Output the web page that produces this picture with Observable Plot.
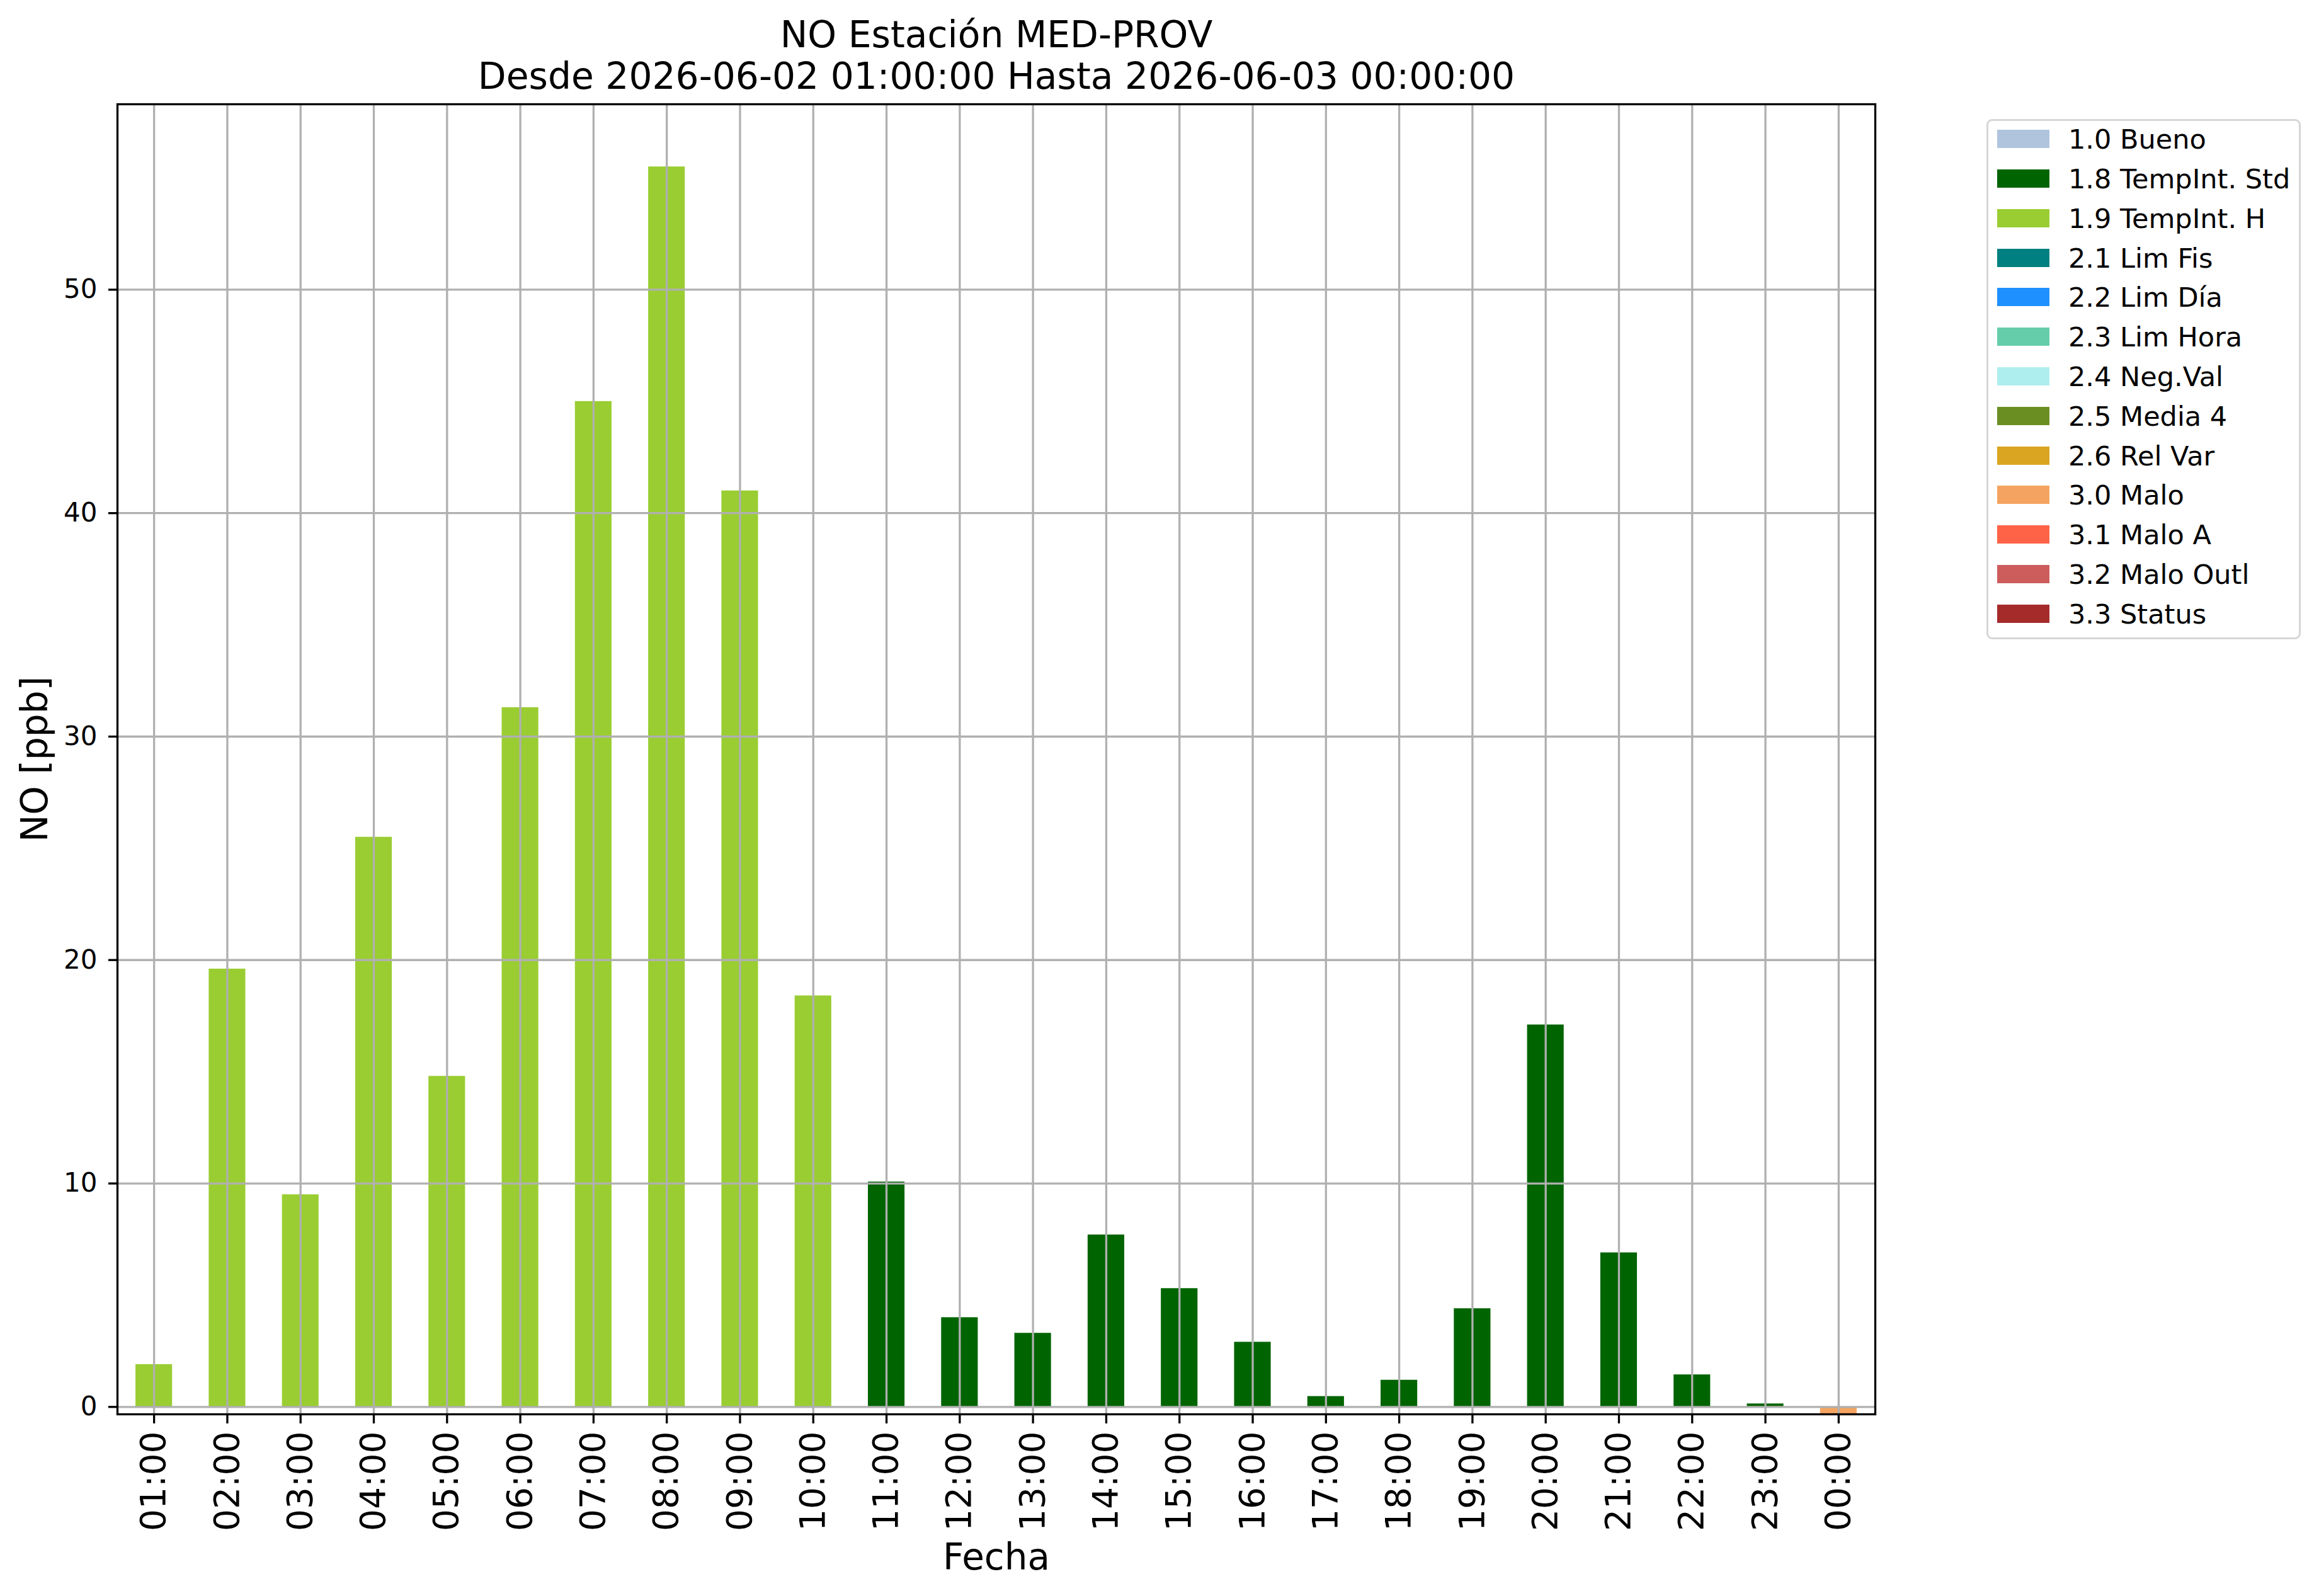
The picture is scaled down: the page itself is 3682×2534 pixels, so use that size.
<!DOCTYPE html>
<html>
<head>
<meta charset="utf-8">
<script src="https://cdn.jsdelivr.net/npm/d3@7"></script>
<script src="https://cdn.jsdelivr.net/npm/@observablehq/plot@0.6"></script>
<style>
  html, body { margin: 0; padding: 0; background: #fff; }
  #wrap { position: relative; width: 3682px; height: 2534px; font-family: "DejaVu Sans", sans-serif; background: #fff; }
  #wrap svg { position: absolute; left: 0; top: 0; }
  #legend { position: absolute; left: 3154px; top: 189px; width: 499px; height: 826px; box-sizing: border-box;
            border: 3.3px solid #d6d6d6; border-radius: 9px; background: #fff; }
  .sw { position: absolute; left: 14px; width: 83px; height: 29px; }
  .lab { position: absolute; left: 127px; font-size: 43px; line-height: 1; white-space: nowrap; color: #000; }
</style>
</head>
<body>
<div id="wrap"></div>
<script>
// ---- data ----
const hours = ["01:00","02:00","03:00","04:00","05:00","06:00","07:00","08:00","09:00","10:00","11:00","12:00",
               "13:00","14:00","15:00","16:00","17:00","18:00","19:00","20:00","21:00","22:00","23:00","00:00"];
const values = [1.9, 19.6, 9.5, 25.5, 14.8, 31.3, 45.0, 55.5, 41.0, 18.4, 10.07, 4.0,
                3.3, 7.7, 5.3, 2.9, 0.47, 1.2, 4.4, 17.1, 6.9, 1.44, 0.14, -0.33];
const flags = ["1.9 TempInt. H","1.9 TempInt. H","1.9 TempInt. H","1.9 TempInt. H","1.9 TempInt. H",
               "1.9 TempInt. H","1.9 TempInt. H","1.9 TempInt. H","1.9 TempInt. H","1.9 TempInt. H",
               "1.8 TempInt. Std","1.8 TempInt. Std","1.8 TempInt. Std","1.8 TempInt. Std","1.8 TempInt. Std",
               "1.8 TempInt. Std","1.8 TempInt. Std","1.8 TempInt. Std","1.8 TempInt. Std","1.8 TempInt. Std",
               "1.8 TempInt. Std","1.8 TempInt. Std","1.8 TempInt. Std","3.0 Malo"];
const legendLabels = ["1.0 Bueno","1.8 TempInt. Std","1.9 TempInt. H","2.1 Lim Fis","2.2 Lim Día","2.3 Lim Hora",
                      "2.4 Neg.Val","2.5 Media 4","2.6 Rel Var","3.0 Malo","3.1 Malo A","3.2 Malo Outl","3.3 Status"];
const legendColors = ["#b0c4de","#006400","#9acd32","#008080","#1e90ff","#66cdaa",
                      "#afeeee","#6b8e23","#daa520","#f4a460","#ff6347","#cd5c5c","#a52a2a"];
const yTicks = [0, 10, 20, 30, 40, 50];
const yDomain = [-0.33, 58.3];
const title1 = "NO Estación MED-PROV";
const title2 = "Desde 2026-06-02 01:00:00 Hasta 2026-06-03 00:00:00";
const xLabel = "Fecha";
const yLabel = "NO [ppb]";

const data = hours.map((h, i) => ({hour: h, value: values[i], flag: flags[i]}));

const gridStyle = {stroke: "#b0b0b0", strokeOpacity: 1, strokeWidth: 3.3};

const chart = Plot.plot({
  width: 3682,
  height: 2534,
  marginLeft: 186,
  marginRight: 705,
  marginTop: 165,
  marginBottom: 289,
  style: {fontFamily: "DejaVu Sans", background: "white", color: "black", overflow: "visible"},
  x: {type: "band", domain: hours, paddingInner: 0.5, paddingOuter: 0.25, align: 0.5, round: false},
  y: {domain: yDomain},
  color: {domain: legendLabels, range: legendColors},
  marks: [
    Plot.barY(data, {x: "hour", y: "value", fill: "flag"}),
    Plot.gridX(hours, gridStyle),
    Plot.gridY(yTicks, gridStyle),
    Plot.axisX({tickRotate: -90, fontSize: 55, tickSize: 15, tickPadding: 12, strokeWidth: 3.3, label: null}),
    Plot.axisY(yTicks, {fontSize: 42, tickSize: 14, tickPadding: 18, strokeWidth: 3.3, label: null}),
    Plot.frame({stroke: "black", strokeWidth: 3.3}),
    Plot.text([title1], {text: d => d, frameAnchor: "top", dy: -91, lineAnchor: "bottom", fontSize: 58.3, fill: "black"}),
    Plot.text([title2], {text: d => d, frameAnchor: "top", dy: -25, lineAnchor: "bottom", fontSize: 58.3, fill: "black"}),
    Plot.text([xLabel], {text: d => d, frameAnchor: "bottom", dy: 246, lineAnchor: "bottom", fontSize: 58, fill: "black"}),
    Plot.text([yLabel], {text: d => d, frameAnchor: "left", dx: -112, rotate: -90, lineAnchor: "bottom", textAnchor: "middle", fontSize: 58, fill: "black"})
  ]
});

const wrap = document.getElementById("wrap");
wrap.appendChild(chart);

// legend
const legend = d3.select(wrap).append("div").attr("id", "legend");
legendLabels.forEach((lab, i) => {
  const cy = 28.7 + i * 62.8;
  legend.append("div").attr("class", "sw")
    .style("top", (cy - 14.5) + "px")
    .style("background", legendColors[i]);
  legend.append("div").attr("class", "lab")
    .style("top", (cy - 20.5) + "px")
    .text(lab);
});
</script>
</body>
</html>
